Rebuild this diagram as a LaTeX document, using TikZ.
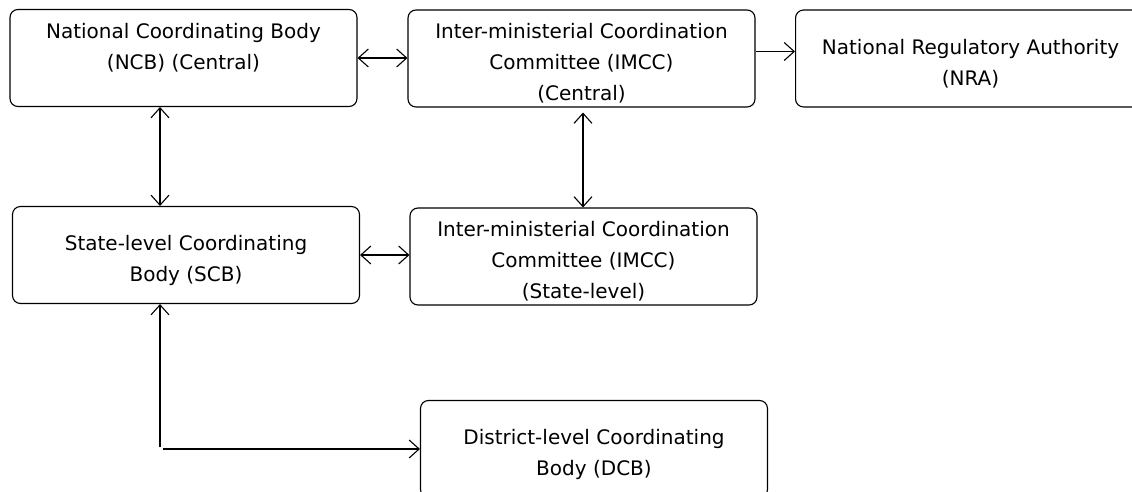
\documentclass[tikz,border=0pt]{standalone}
\usepackage{fontspec}
\setmainfont{DejaVu Sans}
\usetikzlibrary{arrows.meta}
\newcommand{\topgap}{\rule{0pt}{12.8pt}}

\begin{document}
\begin{tikzpicture}[x=0.5pt,y=-0.5pt,line width=0.55pt,
  orgbox/.style={draw,rounded corners=4pt,align=center,inner sep=0pt,
    minimum width=173.5pt,minimum height=48.5pt,
    font=\fontsize{10}{15.5}\selectfont},
  >={Straight Barb[length=5pt,width=9pt]}]
\useasboundingbox (0,0) rectangle (1132,492);
% central level
\node[orgbox] (ncb) at (183.5,58) {\topgap National Coordinating Body\\(NCB) (Central)\\\phantom{(Central)}};
\node[orgbox] (imccc) at (581.5,58.5) {\topgap Inter-ministerial Coordination\\Committee (IMCC)\\(Central)};
\node[orgbox,anchor=west,minimum width=175pt] (nra) at (795,58.5) {\topgap National Regulatory Authority\\(NRA)};
% state level
\node[orgbox] (scb) at (186,255) {\topgap State-level Coordinating\\Body (SCB)};
\node[orgbox] (imccs) at (583.5,256.5) {\topgap Inter-ministerial Coordination\\Committee (IMCC)\\(State-level)};
% district level
\node[orgbox] (dcb) at (594,449) {\topgap District-level Coordinating\\Body (DCB)};

\draw[<->] (ncb.east) -- (ncb.east -| imccc.west);
\draw[->] ([yshift=3.5pt]imccc.east) -- ([yshift=3.5pt]imccc.east -| nra.west);
\draw[<->] ([xshift=-11.75pt]ncb.south) -- ([xshift=-11.75pt]ncb.south |- scb.north);
\draw[<->,shorten <=2.5pt] ([xshift=0.75pt]imccc.south) -- ([xshift=0.75pt]imccc.south |- imccs.north);
\draw[<->] (scb.east) -- (scb.east -| imccs.west);
\coordinate (corner) at ([xshift=-13pt]scb.south |- dcb.west);
\draw[->] ([yshift=1pt]corner) -- (corner |- scb.south);
\draw[->] ([xshift=1.5pt]corner) -- (dcb.west);
\end{tikzpicture}
\end{document}
